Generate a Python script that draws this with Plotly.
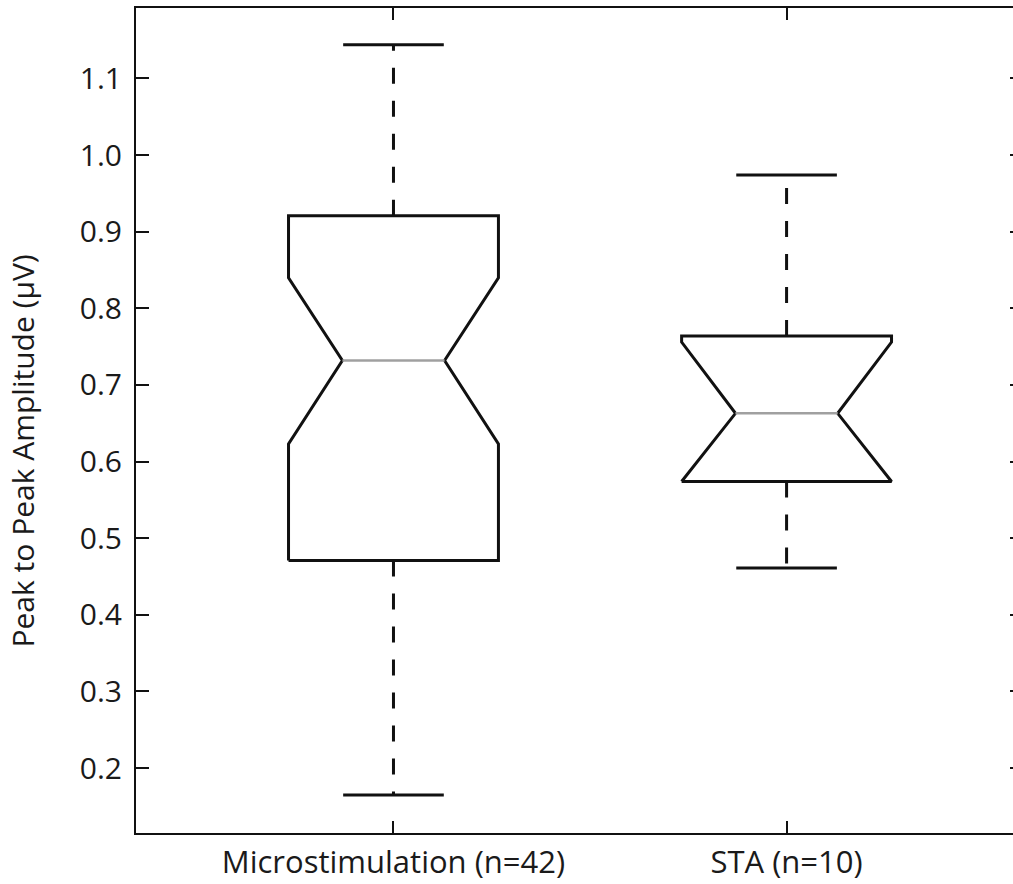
import plotly.graph_objects as go

# ---- data ----
categories = ["Microstimulation (n=42)", "STA (n=10)"]
positions = [1, 2]
lower_whisker = [0.165, 0.461]
q1 = [0.471, 0.574]
notch_lo = [0.623, 0.574]
median = [0.732, 0.663]
notch_hi = [0.840, 0.756]
q3 = [0.921, 0.764]
upper_whisker = [1.144, 0.974]

y_ticks = [0.2, 0.3, 0.4, 0.5, 0.6, 0.7, 0.8, 0.9, 1.0, 1.1]
y_title = "Peak to Peak Amplitude (μV)"

# ---- geometry / style ----
box_half = 0.267
notch_half = 0.13
cap_half = 0.128
LINE = "#111111"
FONT = "Open Sans"
FS = 30

fig = go.Figure()

for i, x in enumerate(positions):
    # whiskers (dashed), drawn from the box outward
    fig.add_trace(go.Scatter(
        x=[x, x], y=[q3[i], upper_whisker[i]], mode="lines",
        line=dict(color=LINE, width=3, dash="16px,17px"), hoverinfo="skip", showlegend=False))
    fig.add_trace(go.Scatter(
        x=[x, x], y=[q1[i], lower_whisker[i]], mode="lines",
        line=dict(color=LINE, width=3, dash="16px,17px"), hoverinfo="skip", showlegend=False))
    # caps
    for v in (upper_whisker[i], lower_whisker[i]):
        fig.add_trace(go.Scatter(
            x=[x - cap_half, x + cap_half], y=[v, v], mode="lines",
            line=dict(color=LINE, width=3), hoverinfo="skip", showlegend=False))
    # notched box outline
    bx = [x - box_half, x - box_half, x - notch_half, x - box_half, x - box_half,
          x + box_half, x + box_half, x + notch_half, x + box_half, x + box_half, x - box_half]
    by = [q1[i], notch_lo[i], median[i], notch_hi[i], q3[i],
          q3[i], notch_hi[i], median[i], notch_lo[i], q1[i], q1[i]]
    fig.add_trace(go.Scatter(
        x=bx, y=by, mode="lines", line=dict(color=LINE, width=3),
        hoverinfo="skip", showlegend=False, name=categories[i]))
    # median
    fig.add_trace(go.Scatter(
        x=[x - notch_half, x + notch_half], y=[median[i], median[i]], mode="lines",
        line=dict(color="#a0a0a0", width=2.5), hoverinfo="skip", showlegend=False))

# invisible trace for the right-hand tick axis
fig.add_trace(go.Scatter(x=[positions[0]], y=[median[0]], yaxis="y2", mode="markers",
                         marker=dict(opacity=0), hoverinfo="skip", showlegend=False))

yrange = [0.1153, 1.192]
fig.update_layout(
    width=1013, height=884,
    margin=dict(l=136, r=0, t=8, b=51),
    paper_bgcolor="white", plot_bgcolor="white",
    font=dict(family=FONT, color="#1a1a1a", size=FS),
    xaxis=dict(
        range=[0.345, 2.576], tickmode="array", tickvals=positions, ticktext=categories,
        ticks="inside", ticklen=12, tickwidth=2, tickcolor=LINE,
        showline=True, linecolor=LINE, linewidth=2, mirror="ticks",
        showgrid=False, zeroline=False, ticklabelstandoff=1,
        tickfont=dict(size=31),
    ),
    yaxis=dict(
        range=yrange, tickmode="array", tickvals=y_ticks,
        ticktext=[f"{v:.1f}" for v in y_ticks],
        ticks="inside", ticklen=13, tickwidth=2, tickcolor=LINE,
        showline=True, linecolor=LINE, linewidth=2, mirror=False,
        showgrid=False, zeroline=False, ticklabelstandoff=6,
        tickfont=dict(size=FS),
    ),
    yaxis2=dict(
        range=yrange, overlaying="y", side="right", tickmode="array", tickvals=y_ticks,
        ticks="inside", ticklen=3, tickwidth=2, tickcolor=LINE,
        showticklabels=False, showline=False, showgrid=False, zeroline=False,
    ),
    annotations=[dict(
        text=y_title, textangle=-90, showarrow=False,
        xref="paper", yref="paper", x=-136 / 877, y=0.463,
        xanchor="left", yanchor="middle", xshift=0,
        font=dict(size=FS, family=FONT, color="#1a1a1a"),
    )],
)

fig.write_html("out.html")
